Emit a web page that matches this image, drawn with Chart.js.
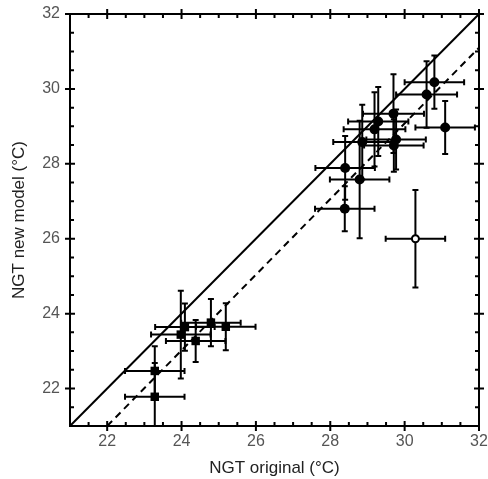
<!DOCTYPE html>
<html lang="en">
<head>
<meta charset="UTF-8">
<title>NGT original vs new model</title>
<script src="https://cdn.jsdelivr.net/npm/chart.js@4"></script>
<style>
    html, body { margin: 0; padding: 0; background: #fff; }
    #wrap { width: 488px; height: 479px; }
</style>
</head>
<body>
<div id="wrap"><canvas id="ngtChart" width="488" height="479"></canvas></div>
<script>
// lower cluster (filled squares)
var squareX    = [23.28, 23.28, 23.98, 24.09, 24.38, 24.79, 25.19];
var squareY    = [22.47, 21.78, 23.44, 23.64, 23.27, 23.76, 23.65];
var squareXErr = [0.8, 0.8, 0.8, 0.8, 0.8, 0.8, 0.8];
var squareYErr = [0.66, 0.9, 1.17, 0.63, 0.56, 0.63, 0.63];

// upper cluster (filled circles)
var circleX    = [30.80, 30.59, 31.09, 29.70, 29.29, 29.19, 29.77, 29.71, 28.86, 28.40, 28.79, 28.39];
var circleY    = [30.18, 29.85, 28.97, 29.34, 29.13, 28.92, 28.65, 28.49, 28.58, 27.89, 27.58, 26.80];
var circleXErr = [0.8, 0.82, 0.8, 0.82, 0.81, 0.83, 0.8, 0.8, 0.78, 0.8, 0.8, 0.8];
var circleYErr = [0.71, 0.89, 0.71, 1.05, 0.92, 0.99, 0.8, 0.7, 1.0, 0.85, 1.57, 0.6];

// outlier (open circle)
var openX    = [30.29];
var openY    = [26.0];
var openXErr = [0.8];
var openYErr = [1.3];

// reference lines
var oneToOneLine = [[21, 21], [32, 32]];
var fitLine      = [[22.0, 21.0], [32, 31.1]];

var tickValues = [22, 24, 26, 28, 30, 32];
var axisMin = 21, axisMax = 32;

function toPoints(xs, ys) {
    return xs.map(function(x, i) { return { x: x, y: ys[i] }; });
}
function pairsToPoints(pairs) {
    return pairs.map(function(p) { return { x: p[0], y: p[1] }; });
}

// error bars drawn under the markers
var errorBarPlugin = {
    id: 'errorBars',
    beforeDatasetsDraw: function(chart) {
        var ctx = chart.ctx, xs = chart.scales.x, ys = chart.scales.y, a = chart.chartArea;
        ctx.save();
        ctx.beginPath();
        ctx.rect(a.left, a.top, a.right - a.left, a.bottom - a.top);
        ctx.clip();
        ctx.strokeStyle = '#000';
        ctx.lineWidth = 2;
        var cap = 3;
        chart.data.datasets.forEach(function(ds) {
            if (!ds.xErr) return;
            ds.data.forEach(function(p, i) {
                var px = xs.getPixelForValue(p.x), py = ys.getPixelForValue(p.y);
                var x0 = xs.getPixelForValue(p.x - ds.xErr[i]), x1 = xs.getPixelForValue(p.x + ds.xErr[i]);
                var y0 = ys.getPixelForValue(p.y - ds.yErr[i]), y1 = ys.getPixelForValue(p.y + ds.yErr[i]);
                ctx.beginPath();
                ctx.moveTo(x0, py); ctx.lineTo(x1, py);
                ctx.moveTo(x0, py - cap); ctx.lineTo(x0, py + cap);
                ctx.moveTo(x1, py - cap); ctx.lineTo(x1, py + cap);
                ctx.moveTo(px, y0); ctx.lineTo(px, y1);
                ctx.moveTo(px - cap, y0); ctx.lineTo(px + cap, y0);
                ctx.moveTo(px - cap, y1); ctx.lineTo(px + cap, y1);
                ctx.stroke();
            });
        });
        ctx.restore();
    }
};

// box frame with ticks on all four sides
var framePlugin = {
    id: 'frame',
    afterDraw: function(chart) {
        var ctx = chart.ctx, xs = chart.scales.x, ys = chart.scales.y, a = chart.chartArea;
        ctx.save();
        ctx.strokeStyle = '#000';
        ctx.lineWidth = 2;
        ctx.strokeRect(a.left, a.top, a.right - a.left, a.bottom - a.top);
        ctx.beginPath();
        for (var v = axisMin; v <= axisMax + 0.001; v += 0.5) {
            var major = tickValues.indexOf(v) >= 0;
            var out = major ? 5 : 0, inn = major ? 5 : 4;
            var px = xs.getPixelForValue(v), py = ys.getPixelForValue(v);
            ctx.moveTo(px, a.bottom + out); ctx.lineTo(px, a.bottom - inn);
            ctx.moveTo(px, a.top - out); ctx.lineTo(px, a.top + inn);
            ctx.moveTo(a.left - out, py); ctx.lineTo(a.left + inn, py);
            ctx.moveTo(a.right + out, py); ctx.lineTo(a.right - inn, py);
        }
        ctx.stroke();
        ctx.restore();
    }
};

var ctx = document.getElementById('ngtChart').getContext('2d');
new Chart(ctx, {
    type: 'scatter',
    data: {
        datasets: [
            {
                type: 'line',
                data: pairsToPoints(oneToOneLine),
                borderColor: '#000',
                borderWidth: 2,
                pointRadius: 0
            },
            {
                type: 'line',
                data: pairsToPoints(fitLine),
                borderColor: '#000',
                borderWidth: 2,
                borderDash: [7, 5],
                pointRadius: 0
            },
            {
                data: toPoints(squareX, squareY),
                xErr: squareXErr,
                yErr: squareYErr,
                pointStyle: 'rect',
                pointRadius: 6,
                backgroundColor: '#000',
                borderColor: '#000',
                borderWidth: 0
            },
            {
                data: toPoints(circleX, circleY),
                xErr: circleXErr,
                yErr: circleYErr,
                pointStyle: 'circle',
                pointRadius: 5,
                backgroundColor: '#000',
                borderColor: '#000',
                borderWidth: 0
            },
            {
                data: toPoints(openX, openY),
                xErr: openXErr,
                yErr: openYErr,
                pointStyle: 'circle',
                pointRadius: 3.5,
                backgroundColor: '#fff',
                borderColor: '#000',
                borderWidth: 2
            }
        ]
    },
    options: {
        responsive: false,
        animation: false,
        layout: { padding: { top: 14, right: 9, left: 0, bottom: 0 } },
        plugins: {
            legend: { display: false },
            tooltip: { enabled: false }
        },
        scales: {
            x: {
                type: 'linear',
                min: axisMin,
                max: axisMax,
                grid: { display: false, drawTicks: false, tickLength: 0 },
                border: { display: false },
                afterBuildTicks: function(axis) {
                    axis.ticks = tickValues.map(function(v) { return { value: v }; });
                },
                afterFit: function(axis) {
                    axis.height = 53;
                    axis.paddingLeft = 0;
                    axis.paddingRight = 0;
                },
                ticks: {
                    padding: 6,
                    color: '#555',
                    font: { family: 'Liberation Sans, Arial, sans-serif', size: 16 }
                },
                title: {
                    display: true,
                    text: 'NGT original (°C)',
                    color: '#222',
                    padding: { top: 0, bottom: 0 },
                    font: { family: 'Liberation Sans, Arial, sans-serif', size: 17 }
                }
            },
            y: {
                type: 'linear',
                min: axisMin,
                max: axisMax,
                grid: { display: false, drawTicks: false, tickLength: 0 },
                border: { display: false },
                afterBuildTicks: function(axis) {
                    axis.ticks = tickValues.map(function(v) { return { value: v }; });
                },
                afterFit: function(axis) {
                    axis.width = 70;
                    axis.paddingTop = 0;
                    axis.paddingBottom = 0;
                },
                ticks: {
                    padding: 10,
                    color: '#555',
                    font: { family: 'Liberation Sans, Arial, sans-serif', size: 16 }
                },
                title: {
                    display: true,
                    text: 'NGT new model (°C)',
                    color: '#222',
                    padding: { top: 9, bottom: 0 },
                    font: { family: 'Liberation Sans, Arial, sans-serif', size: 17 }
                }
            }
        }
    },
    plugins: [errorBarPlugin, framePlugin]
});
</script>
</body>
</html>
